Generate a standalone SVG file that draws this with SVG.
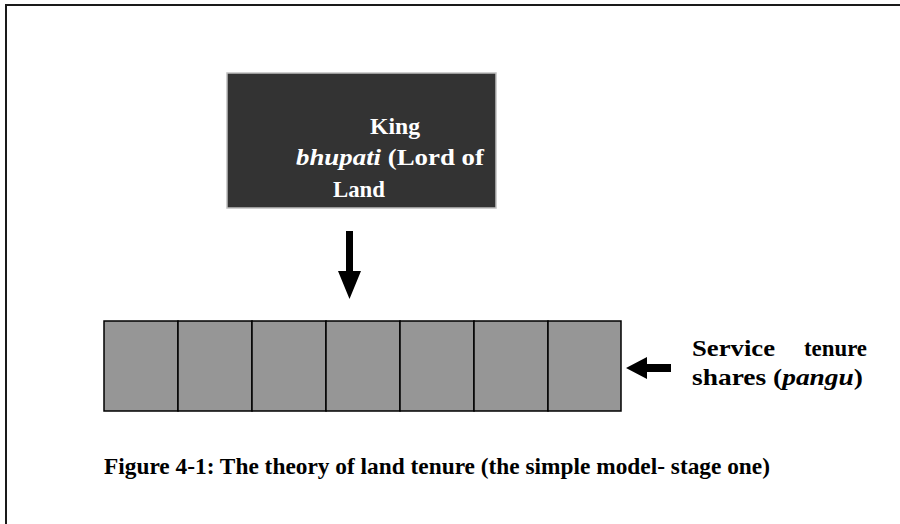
<svg xmlns="http://www.w3.org/2000/svg" width="900" height="524" viewBox="0 0 900 524">
<style>
.t{font-family:"Liberation Serif","Times New Roman",serif;font-weight:bold;font-size:23px}
.w{fill:#ffffff}
.k{fill:#000000}
.cell{fill:#969696;stroke:#000000;stroke-width:1.5}
</style>
<rect width="900" height="524" fill="#ffffff"/>
<path d="M6,524 V5 H900" fill="none" stroke="#1a1a1a" stroke-width="2"/>
<g id="king">
<rect x="227" y="73" width="269" height="135" fill="#333333" stroke="#c0c0c0" stroke-width="1.5"/>
<text class="t w" x="370" y="134" textLength="50" lengthAdjust="spacingAndGlyphs">King</text>
<text class="t w" x="296" y="165" textLength="188" lengthAdjust="spacingAndGlyphs"><tspan font-style="italic">bhupati</tspan> (Lord of</text>
<text class="t w" x="333" y="197" textLength="52" lengthAdjust="spacingAndGlyphs">Land</text>
</g>
<g id="shares">
<rect class="cell" x="104" y="321" width="74" height="90"/>
<rect class="cell" x="178" y="321" width="74" height="90"/>
<rect class="cell" x="252" y="321" width="74" height="90"/>
<rect class="cell" x="326" y="321" width="74" height="90"/>
<rect class="cell" x="400" y="321" width="74" height="90"/>
<rect class="cell" x="474" y="321" width="74" height="90"/>
<rect class="cell" x="548" y="321" width="73" height="90"/>
</g>
<g id="label">
<text class="t k" x="692" y="356" textLength="83" lengthAdjust="spacingAndGlyphs">Service</text>
<text class="t k" x="804" y="356" textLength="63" lengthAdjust="spacingAndGlyphs">tenure</text>
<text class="t k" x="692" y="385" textLength="171" lengthAdjust="spacingAndGlyphs">shares (<tspan font-style="italic">pangu</tspan>)</text>
</g>
<g id="connectors">
<polygon points="346,231 353,231 353,271 361,271 349.5,299 338,271 346,271" fill="#000000"/>
<polygon points="626,368 647,357 647,364 671,364 671,372 647,372 647,379" fill="#000000"/>
</g>
<g id="caption">
<text class="t k" x="104" y="474" textLength="666" lengthAdjust="spacingAndGlyphs">Figure 4-1: The theory of land tenure (the simple model- stage one)</text>
</g>
</svg>
